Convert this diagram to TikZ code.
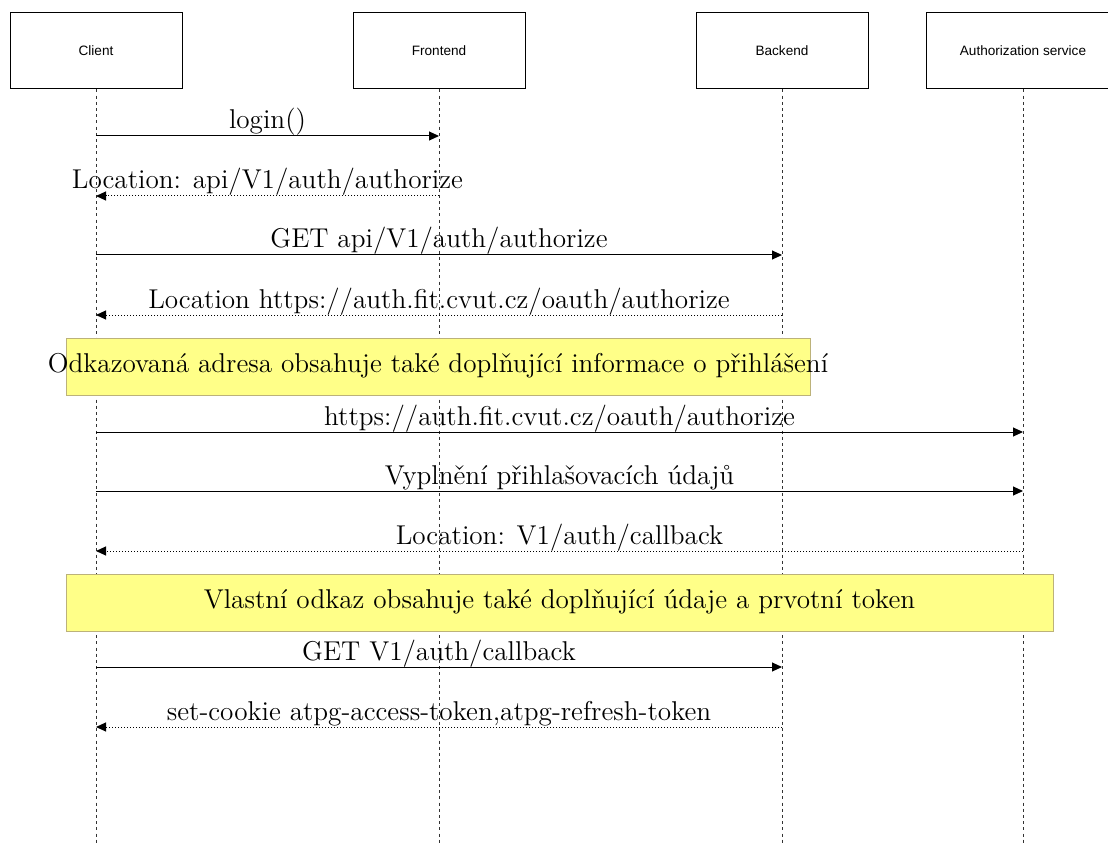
\documentclass[tikz,border=0pt]{standalone}
\usepackage{fontspec}
\usepackage{tikz}
\usetikzlibrary{arrows.meta}
\newfontfamily\boxfont{Liberation Sans}
\definecolor{notefill}{HTML}{FFFF88}
\definecolor{noteline}{HTML}{BCB27A}
\newcommand{\msgfont}{\fontsize{13.6}{16}\selectfont}

\tikzset{
  actor/.style={draw, line width=0.5pt, minimum width=86pt, minimum height=38pt,
    inner sep=0pt, font=\boxfont\fontsize{6.8}{8}\selectfont},
  life/.style={line width=0.5pt, black!80, dash pattern=on 1.5pt off 1.6pt},
  call/.style={->, line width=0.5pt},
  reply/.style={->, line width=0.5pt, dash pattern=on 0.5pt off 1pt},
  note/.style={draw=noteline, fill=notefill, line width=0.5pt, inner sep=0pt},
  lbl/.style={midway, anchor=base, yshift=3.5pt, inner sep=0pt, font=\msgfont},
}

\begin{document}
\begin{tikzpicture}[x=0.5pt, y=-0.5pt, >={Triangle[length=5pt,width=4.5pt]}]

  \useasboundingbox (0,0) rectangle (1108,845);

  %% participants
  \node[actor] (client) at (96,51) {Client};
  \node[actor] (frontend) at (439,51) {Frontend};
  \node[actor] (backend) at (782,51) {Backend};
  \node[actor, minimum width=97pt] (authsvc) at (1023,51) {Authorization service};

  %% lifelines
  \draw[life] (client.south) -- (client.south |- 0,845);
  \draw[life] (frontend.south) -- (frontend.south |- 0,845);
  \draw[life] (backend.south) -- (backend.south |- 0,845);
  \draw[life] (authsvc.south) -- (authsvc.south |- 0,845);

  %% notes
  \node[note, minimum width=372pt, minimum height=28.5pt] (note1) at (438,366.5) {};
  \node[anchor=base, inner sep=0pt, font=\msgfont] (note1txt) at (438,372)
    {Odkazovaná adresa obsahuje také doplňující informace o přihlášení};
  \node[note, minimum width=493.5pt, minimum height=28.5pt] (note2) at (559.5,602.5) {};
  \node[anchor=base, inner sep=0pt, font=\msgfont] (note2txt) at (559.5,608)
    {Vlastní odkaz obsahuje také doplňující údaje a prvotní token};

  %% messages
  \draw[call] (client |- 0,136) -- node[lbl]{login()}
    (frontend |- 0,136); %% C->F
  \draw[reply] (frontend |- 0,196) -- node[lbl]{Location: api/V1/auth/authorize}
    (client |- 0,196); %% F->C
  \draw[call] (client |- 0,255) -- node[lbl]{GET api/V1/auth/authorize}
    (backend |- 0,255); %% C->B
  \draw[reply] (backend |- 0,315) -- node[lbl]{Location https://auth.fit.cvut.cz/oauth/authorize}
    (client |- 0,315); %% B->C

  \draw[call] (client |- 0,432) -- node[lbl]{https://auth.fit.cvut.cz/oauth/authorize}
    (authsvc |- 0,432); %% C->A
  \draw[call] (client |- 0,491) -- node[lbl]{Vyplnění přihlašovacích údajů}
    (authsvc |- 0,491); %% C->A
  \draw[reply] (authsvc |- 0,551) -- node[lbl]{Location: V1/auth/callback}
    (client |- 0,551); %% A->C

  \draw[call] (client |- 0,667) -- node[lbl]{GET V1/auth/callback}
    (backend |- 0,667); %% C->B
  \draw[reply] (backend |- 0,727) -- node[lbl]{set-cookie atpg-access-token,atpg-refresh-token}
    (client |- 0,727); %% B->C

\end{tikzpicture}
\end{document}
